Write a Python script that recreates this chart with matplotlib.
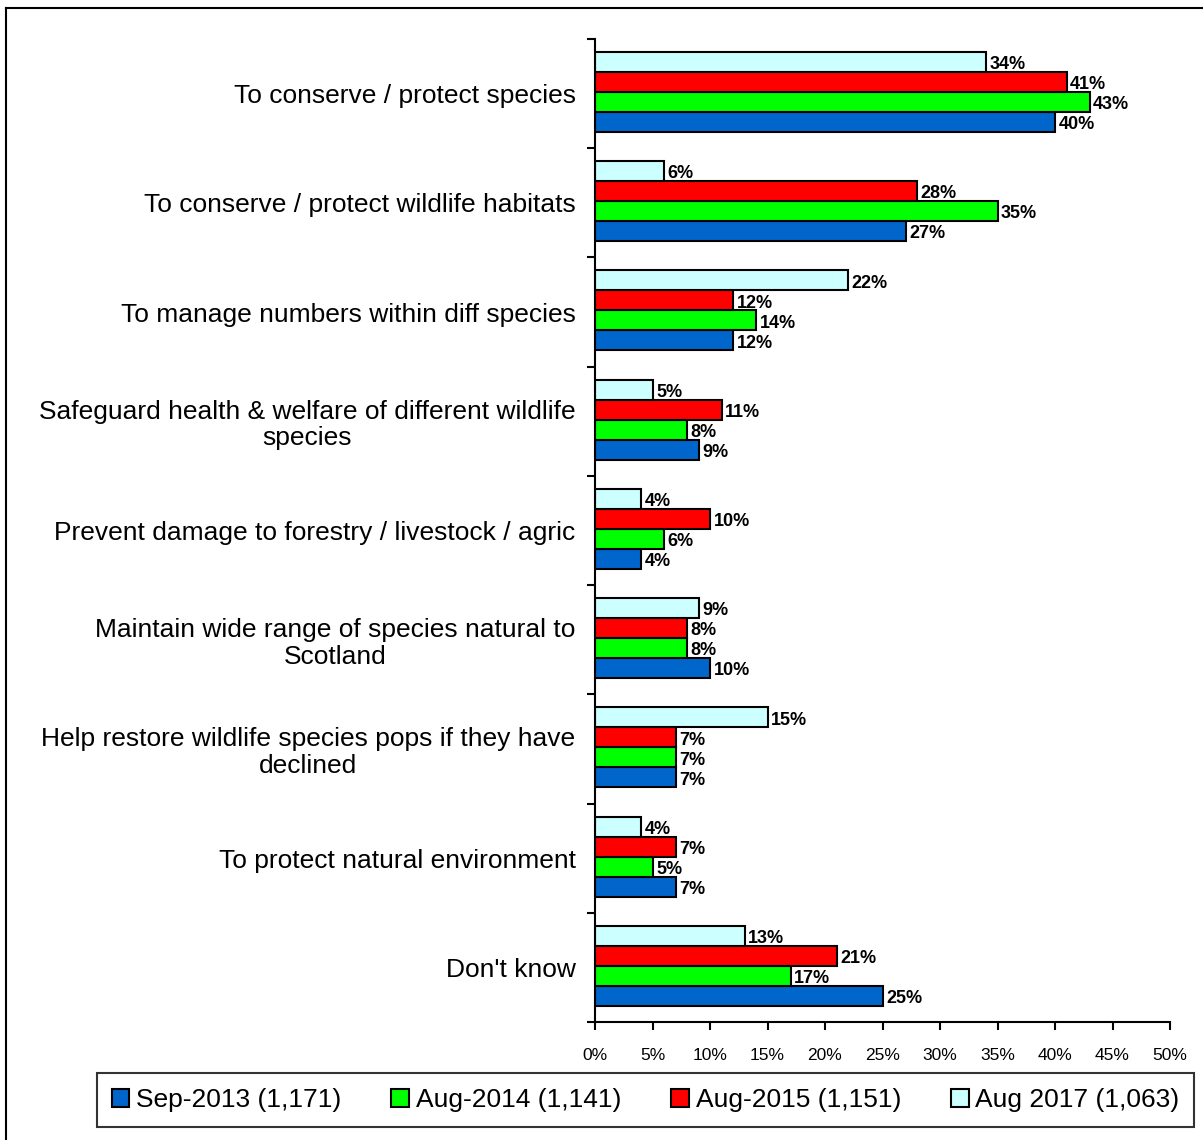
import numpy as np
import matplotlib.pyplot as plt
from matplotlib.lines import Line2D

plt.rcParams['font.family'] = ['Liberation Sans', 'DejaVu Sans']

# survey answers, top to bottom
categories = [
    "To conserve / protect species",
    "To conserve / protect wildlife habitats",
    "To manage numbers within diff species",
    "Safeguard health & welfare of different wildlife\nspecies",
    "Prevent damage to forestry / livestock / agric",
    "Maintain wide range of species natural to\nScotland",
    "Help restore wildlife species pops if they have\ndeclined",
    "To protect natural environment",
    "Don't know",
]

sep_2013 = [40, 27, 12, 9, 4, 10, 7, 7, 25]
aug_2014 = [43, 35, 14, 8, 6, 8, 7, 5, 17]
aug_2015 = [41, 28, 12, 11, 10, 8, 7, 7, 21]
aug_2017 = [34, 6, 22, 5, 4, 9, 15, 4, 13]

series_names = ["Sep-2013 (1,171)", "Aug-2014 (1,141)", "Aug-2015 (1,151)", "Aug 2017 (1,063)"]
series_vals = [sep_2013, aug_2014, aug_2015, aug_2017]
colors = ["#0066CC", "#00FF00", "#FF0000", "#CCFFFF"]

W, H = 1203, 1140
fig = plt.figure(figsize=(W / 100, H / 100), dpi=100)
ax = fig.add_axes([595 / W, 1 - 1022 / H, (1170 - 595) / W, (1022 - 39) / H])

n = len(categories)
centers = np.arange(n) + 0.5
bh = 0.183
# blue bar sits lowest, cyan on top
offsets = [1.5 * bh, 0.5 * bh, -0.5 * bh, -1.5 * bh]

handles = []
for vals, name, col, off in zip(series_vals, series_names, colors, offsets):
    bars = ax.barh(centers + off - 0.015, vals, height=bh, color=col, edgecolor='black',
                   linewidth=1.5, label=name)
    handles.append(bars)
    for y, v in zip(centers + off, vals):
        ax.text(v + 0.3, y + 0.01, f"{v}%", ha='left', va='center',
                fontsize=13, fontweight='bold', color='black')

ax.set_ylim(n, 0)
ax.set_xlim(0, 50)

# category boundaries as ticks, names at the centres
ax.set_yticks(np.arange(n + 1))
ax.set_yticklabels([])
ax.set_yticks(centers, minor=True)
ax.set_yticklabels(categories, minor=True, fontsize=19, ha='right',
                   multialignment='center', linespacing=1.12)
ax.tick_params(axis='y', which='minor', length=0, pad=14)
ax.tick_params(axis='y', which='major', direction='out', length=6, width=1.5)

ax.set_xticks(np.arange(0, 51, 5))
ax.set_xticklabels([f"{t}%" for t in range(0, 51, 5)], fontsize=12.5)
ax.tick_params(axis='x', direction='out', length=6, width=1.5, pad=13)

for s in ['top', 'right']:
    ax.spines[s].set_visible(False)
for s in ['left', 'bottom']:
    ax.spines[s].set_linewidth(1.5)

leg = fig.legend(handles=handles, labels=series_names, loc='center', ncol=4,
                 bbox_to_anchor=(97 / W, 1 - 1127 / H, (1194 - 97) / W, (1127 - 1073) / H),
                 mode='expand', fontsize=19, frameon=True, fancybox=False,
                 edgecolor='black', handlelength=0.68, handleheight=0.68,
                 handletextpad=0.25, borderaxespad=0, borderpad=0.55,
                 columnspacing=1.0)
leg.get_frame().set_linewidth(1.5)

# outer frame (left and top edges)
fig.add_artist(Line2D([6 / W, 6 / W], [0, 1 - 8 / H], color='black', lw=1.5,
                      transform=fig.transFigure))
fig.add_artist(Line2D([6 / W, 1], [1 - 8 / H, 1 - 8 / H], color='black', lw=1.5,
                      transform=fig.transFigure))

fig.savefig("out.png", dpi=100)
